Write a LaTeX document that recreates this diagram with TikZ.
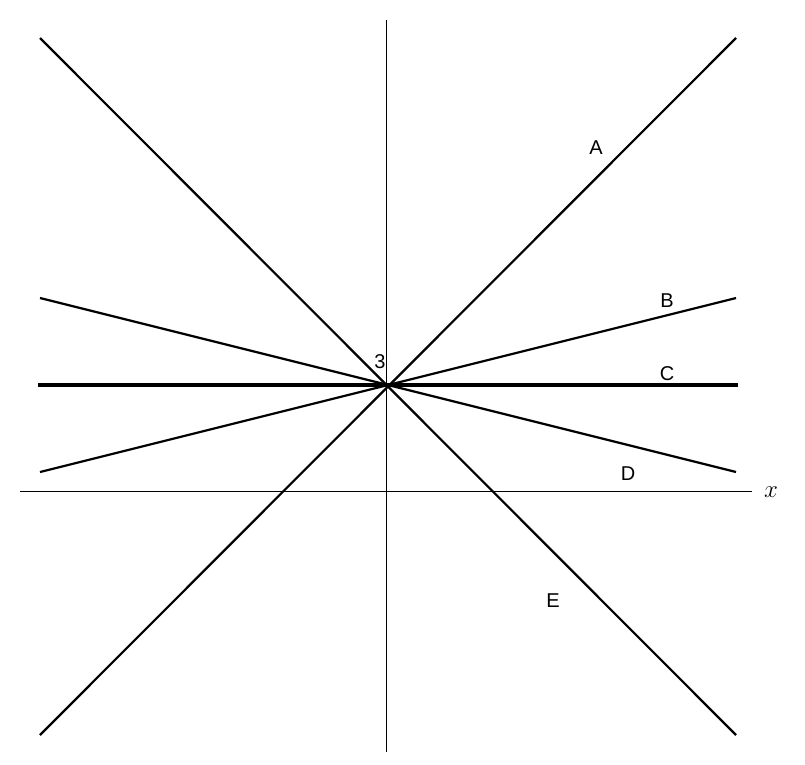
\documentclass[tikz,border=0pt]{standalone}
\usepackage{fontspec}
\setsansfont{Liberation Sans}
\begin{document}
\begin{tikzpicture}[x=1pt,y=-1pt,
  ln/.style={line width=2.2pt},
  ax/.style={line width=1pt},
  lab/.style={font=\sffamily\fontsize{20}{20}\selectfont}]
\useasboundingbox (0,0) rectangle (805,764);
\fill[white] (0,0) rectangle (805,764);
\coordinate (O) at (386,385);
\coordinate (yt) at (386,20); \coordinate (yb) at (386,752);
\coordinate (xl) at (20,491); \coordinate (xr) at (752,491);
\draw[ax] (yt) -- (yb);
\draw[ax] (xl) -- (xr);
\node (xlab) at (771,492) {\fontsize{24}{24}\selectfont$x$};
\coordinate (a1) at (40,735); \coordinate (a2) at (736,38);
\coordinate (e1) at (40,38); \coordinate (e2) at (736,735);
\coordinate (b1) at (40,472); \coordinate (b2) at (736,298);
\coordinate (d1) at (40,298); \coordinate (d2) at (736,472);
\coordinate (c1) at (38,385); \coordinate (c2) at (738,385);
\draw[ln] (a1) -- (a2);
\draw[ln] (e1) -- (e2);
\draw[ln] (b1) -- (b2);
\draw[ln] (d1) -- (d2);
\draw[line width=3.5pt] (c1) -- (c2);
\node[lab] (A) at (596,148) {A};
\node[lab] (B) at (667,301) {B};
\node[lab] (C) at (667,374) {C};
\node[lab] (D) at (628,474) {D};
\node[lab] (E) at (553,601) {E};
\node[lab,fill=white,inner sep=0.5pt] (three) at (380,362) {3};
\end{tikzpicture}
\end{document}
